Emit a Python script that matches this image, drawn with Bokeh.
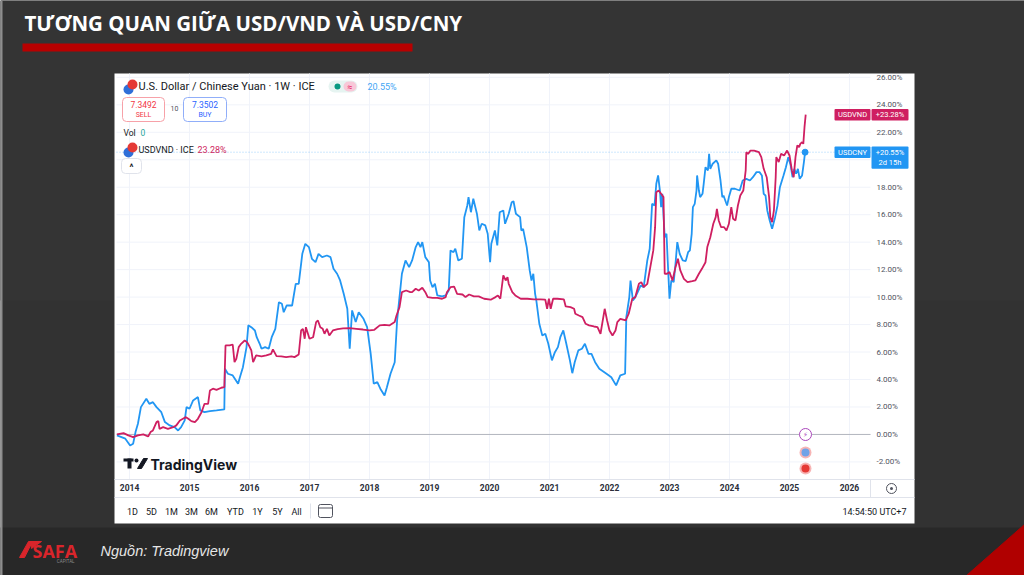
from bokeh.plotting import figure
from bokeh.models import Range1d, FixedTicker, PrintfTickFormatter, LinearAxis
from bokeh.core.properties import value
from bokeh.embed import file_html
from bokeh.resources import INLINE

# weekly closes, % change from the first bar
cny_t = [2013.79, 2013.93, 2014.01, 2014.06, 2014.10, 2014.14, 2014.19, 2014.28, 2014.33, 2014.39,
         2014.45, 2014.53, 2014.59, 2014.67, 2014.75, 2014.81, 2014.86, 2014.92, 2014.95, 2015.00,
         2015.06, 2015.14, 2015.18, 2015.25, 2015.34, 2015.45, 2015.58, 2015.59, 2015.64, 2015.72,
         2015.81, 2015.84, 2015.89, 2015.95, 2015.98, 2016.03, 2016.09, 2016.12, 2016.17, 2016.20,
         2016.26, 2016.32, 2016.37, 2016.43, 2016.49, 2016.54, 2016.57, 2016.62, 2016.71, 2016.77,
         2016.82, 2016.88, 2016.93, 2016.99, 2017.04, 2017.10, 2017.15, 2017.21, 2017.29, 2017.35,
         2017.40, 2017.46, 2017.51, 2017.57, 2017.63, 2017.67, 2017.71, 2017.77, 2017.82, 2017.90,
         2017.96, 2018.02, 2018.07, 2018.13, 2018.18, 2018.25, 2018.29, 2018.35, 2018.42, 2018.46,
         2018.54, 2018.60, 2018.66, 2018.71, 2018.77, 2018.81, 2018.85, 2018.88, 2018.93, 2018.99,
         2019.01, 2019.05, 2019.09, 2019.13, 2019.21, 2019.27, 2019.32, 2019.35, 2019.40, 2019.43,
         2019.48, 2019.54, 2019.58, 2019.63, 2019.65, 2019.69, 2019.73, 2019.79, 2019.83, 2019.87,
         2019.93, 2019.97, 2020.01, 2020.03, 2020.09, 2020.13, 2020.17, 2020.23, 2020.26, 2020.32,
         2020.37, 2020.40, 2020.44, 2020.51, 2020.53, 2020.56, 2020.62, 2020.67, 2020.70, 2020.73,
         2020.76, 2020.78, 2020.83, 2020.88, 2020.93, 2020.98, 2021.04, 2021.09, 2021.14, 2021.18,
         2021.23, 2021.28, 2021.34, 2021.38, 2021.42, 2021.48, 2021.54, 2021.59, 2021.65, 2021.70,
         2021.76, 2021.83, 2021.95, 2022.03, 2022.11, 2022.18, 2022.26, 2022.28, 2022.33, 2022.35,
         2022.39, 2022.43, 2022.47, 2022.52, 2022.57, 2022.63, 2022.67, 2022.71, 2022.75, 2022.78,
         2022.81, 2022.84, 2022.86, 2022.88, 2022.92, 2022.95, 2022.97, 2023.00, 2023.03, 2023.07,
         2023.10, 2023.13, 2023.17, 2023.22, 2023.27, 2023.31, 2023.34, 2023.37, 2023.39, 2023.42,
         2023.45, 2023.46, 2023.49, 2023.51, 2023.55, 2023.57, 2023.60, 2023.64, 2023.66, 2023.68,
         2023.72, 2023.78, 2023.81, 2023.85, 2023.88, 2023.90, 2023.94, 2023.96, 2023.99, 2024.03,
         2024.09, 2024.17, 2024.22, 2024.28, 2024.34, 2024.39, 2024.45, 2024.50, 2024.54, 2024.57,
         2024.60, 2024.63, 2024.67, 2024.71, 2024.76, 2024.80, 2024.84, 2024.90, 2024.94, 2024.98,
         2025.02, 2025.05, 2025.08, 2025.11, 2025.14, 2025.17, 2025.21, 2025.24, 2025.26]
cny_v = [-0.07, -0.31, -0.80, -0.68, 0.17, 0.78, 1.99, 2.60, 2.23, 2.35,
         1.99, 1.62, 0.90, 0.66, 0.53, 0.29, 0.53, 1.02, 1.99, 1.87,
         2.48, 2.72, 1.75, 1.62, 1.70, 1.75, 1.82, 4.78, 4.42, 4.30,
         3.69, 4.17, 4.90, 6.36, 7.94, 7.81, 7.57, 7.08, 6.60, 6.24,
         6.36, 6.24, 7.08, 7.69, 9.63, 9.51, 8.90, 9.39, 9.39, 10.97,
         10.97, 13.15, 13.88, 13.64, 12.79, 12.54, 13.15, 12.91, 13.03, 12.91,
         12.06, 11.70, 11.21, 10.24, 9.15, 6.24, 9.03, 8.18, 8.90, 8.42,
         7.81, 5.87, 3.69, 3.81, 3.33, 2.84, 3.44, 4.42, 5.26, 8.30,
         11.70, 12.67, 12.18, 12.67, 13.64, 14.00, 13.64, 14.00, 12.91, 12.54,
         11.21, 10.72, 10.97, 10.12, 10.05, 10.12, 10.48, 13.40, 13.27, 13.52,
         12.67, 12.79, 15.82, 16.67, 17.28, 16.18, 17.16, 16.07, 14.85, 15.34,
         15.22, 14.61, 12.54, 13.88, 14.85, 13.76, 16.18, 16.31, 15.34, 16.07,
         16.91, 16.98, 16.07, 15.82, 14.85, 14.97, 13.64, 11.94, 11.21, 11.70,
         10.24, 9.76, 8.06, 7.21, 7.33, 6.60, 5.39, 5.99, 6.36, 7.08,
         7.57, 6.60, 5.39, 4.46, 5.26, 6.12, 6.24, 6.60, 5.87, 5.87,
         5.26, 4.78, 4.42, 4.17, 3.57, 4.30, 4.42, 8.54, 10.00, 11.21,
         9.76, 10.00, 10.36, 10.85, 10.72, 12.67, 13.52, 16.79, 16.67, 18.25,
         18.86, 17.76, 16.55, 17.52, 14.36, 14.61, 12.67, 9.88, 11.21, 11.09,
         12.43, 14.00, 13.15, 12.67, 12.62, 13.27, 13.40, 14.61, 16.55, 16.79,
         17.76, 18.86, 17.76, 17.28, 17.52, 18.25, 19.46, 19.22, 20.43, 19.34,
         19.71, 19.95, 19.71, 18.49, 17.28, 17.40, 16.91, 16.67, 17.28, 17.89,
         17.89, 17.76, 18.49, 18.61, 18.49, 18.73, 19.10, 19.10, 18.86, 17.52,
         17.40, 16.31, 15.58, 14.97, 15.82, 16.67, 18.00, 18.86, 19.46, 20.19,
         19.58, 18.73, 19.34, 18.98, 19.34, 18.61, 18.86, 19.83, 20.55]

vnd_t = [2013.79, 2013.90, 2013.98, 2014.06, 2014.14, 2014.23, 2014.31, 2014.35, 2014.39, 2014.45,
         2014.48, 2014.50, 2014.56, 2014.64, 2014.73, 2014.78, 2014.84, 2014.89, 2014.94, 2014.98,
         2015.03, 2015.09, 2015.14, 2015.20, 2015.25, 2015.31, 2015.34, 2015.39, 2015.45, 2015.53,
         2015.58, 2015.60, 2015.67, 2015.72, 2015.75, 2015.78, 2015.82, 2015.86, 2015.92, 2015.96,
         2015.99, 2016.03, 2016.06, 2016.11, 2016.20, 2016.28, 2016.36, 2016.39, 2016.45, 2016.53,
         2016.61, 2016.70, 2016.75, 2016.82, 2016.86, 2016.89, 2016.92, 2016.94, 2017.00, 2017.06,
         2017.11, 2017.14, 2017.18, 2017.22, 2017.25, 2017.29, 2017.33, 2017.39, 2017.47, 2017.56,
         2017.67, 2017.78, 2017.89, 2018.00, 2018.08, 2018.17, 2018.25, 2018.33, 2018.42, 2018.45,
         2018.50, 2018.54, 2018.61, 2018.68, 2018.71, 2018.77, 2018.82, 2018.88, 2018.93, 2018.97,
         2019.05, 2019.13, 2019.21, 2019.27, 2019.29, 2019.35, 2019.41, 2019.46, 2019.55, 2019.60,
         2019.66, 2019.74, 2019.82, 2019.91, 2020.02, 2020.10, 2020.14, 2020.18, 2020.23, 2020.27,
         2020.30, 2020.32, 2020.38, 2020.43, 2020.52, 2020.63, 2020.74, 2020.85, 2020.93, 2020.96,
         2020.99, 2021.02, 2021.06, 2021.13, 2021.24, 2021.27, 2021.35, 2021.41, 2021.43, 2021.49,
         2021.55, 2021.60, 2021.66, 2021.74, 2021.80, 2021.85, 2021.92, 2021.96, 2022.00, 2022.05,
         2022.10, 2022.13, 2022.18, 2022.27, 2022.32, 2022.38, 2022.43, 2022.49, 2022.53, 2022.57,
         2022.63, 2022.68, 2022.73, 2022.76, 2022.78, 2022.82, 2022.86, 2022.90, 2022.92, 2022.96,
         2023.00, 2023.05, 2023.10, 2023.14, 2023.18, 2023.24, 2023.30, 2023.38, 2023.43, 2023.49,
         2023.54, 2023.60, 2023.63, 2023.68, 2023.73, 2023.77, 2023.79, 2023.82, 2023.86, 2023.91,
         2023.95, 2023.99, 2024.03, 2024.06, 2024.10, 2024.14, 2024.18, 2024.23, 2024.27, 2024.28,
         2024.31, 2024.35, 2024.41, 2024.49, 2024.53, 2024.57, 2024.62, 2024.66, 2024.68, 2024.71,
         2024.74, 2024.77, 2024.78, 2024.82, 2024.86, 2024.91, 2024.96, 2025.00, 2025.04, 2025.07,
         2025.10, 2025.13, 2025.16, 2025.18, 2025.21, 2025.23, 2025.25, 2025.27]
vnd_v = [0.00, 0.10, -0.07, -0.19, -0.07, 0.00, -0.15, 0.17, 0.29, 0.90,
         0.97, 0.41, 0.53, 0.41, 0.53, 0.66, 1.02, 1.14, 1.26, 1.14,
         0.97, 0.90, 1.14, 1.62, 2.23, 2.23, 3.20, 3.33, 3.25, 3.40,
         3.44, 6.48, 6.48, 6.55, 5.26, 5.51, 6.36, 6.60, 6.84, 6.72,
         6.48, 6.12, 5.26, 5.75, 5.68, 5.75, 5.87, 6.19, 5.70, 5.68,
         5.63, 5.68, 5.63, 5.82, 7.57, 7.69, 6.97, 7.81, 6.97, 7.08,
         8.18, 8.30, 7.81, 7.69, 7.33, 7.69, 7.21, 7.57, 7.67, 7.72,
         7.74, 7.69, 7.64, 7.57, 7.62, 7.94, 7.98, 7.94, 8.18, 8.66,
         9.27, 10.36, 10.48, 10.36, 10.36, 10.61, 10.48, 10.68, 10.36, 10.00,
         9.95, 9.95, 9.88, 10.00, 10.36, 10.72, 10.77, 10.24, 10.19, 10.00,
         10.19, 10.05, 10.05, 9.88, 9.81, 10.00, 10.12, 9.88, 11.58, 11.21,
         11.45, 10.97, 10.36, 10.12, 9.88, 9.88, 9.83, 9.83, 9.81, 9.15,
         9.88, 9.15, 9.88, 9.88, 9.83, 9.32, 9.27, 9.15, 8.79, 8.66,
         8.54, 8.06, 7.94, 7.86, 7.81, 7.33, 9.15, 8.30, 7.57, 7.21,
         7.57, 8.18, 8.42, 8.30, 8.79, 9.88, 10.00, 10.97, 11.09, 10.72,
         10.97, 12.18, 13.40, 15.09, 17.64, 17.76, 17.52, 17.28, 11.70, 11.70,
         11.82, 11.21, 12.18, 12.79, 11.94, 11.33, 11.09, 11.16, 11.21, 11.70,
         12.06, 12.54, 13.64, 14.36, 15.34, 15.82, 16.43, 15.58, 15.09, 15.09,
         14.85, 15.34, 16.55, 15.70, 15.58, 16.67, 17.40, 17.76, 19.22, 20.55,
         20.43, 20.67, 20.67, 20.55, 20.19, 19.34, 18.73, 17.28, 15.82, 15.46,
         16.31, 18.73, 20.19, 19.83, 20.43, 20.31, 20.67, 20.31, 19.22, 18.73,
         20.19, 21.04, 20.92, 21.16, 21.28, 21.16, 22.37, 23.28]

years = list(range(2014, 2027))
pct_ticks = list(range(-2, 27, 2))
range_buttons = ["1D", "5D", "1M", "3M", "6M", "YTD", "1Y", "5Y", "All"]
button_x = [132, 151, 171, 191, 211, 235, 257, 277, 296]

BLUE = "#2196f3"
RED = "#cf1f61"
INK = "#131722"

# the slide is laid out in its own pixel space; the chart gets its own scales,
# pinned to the plot area of the screenshot
FRAME = (116, 73, 870, 479)          # left, top, right, bottom of the price pane
X_SPAN = (2013.783, 2026.35)         # years shown across the pane
Y_SPAN = (-3.28, 26.28)              # percent shown down the pane
PAGE = (0, 0, 1024, 575)


def year_at(px):
    return X_SPAN[0] + (px - FRAME[0]) * (X_SPAN[1] - X_SPAN[0]) / (FRAME[2] - FRAME[0])


def pct_at(py):
    return Y_SPAN[0] + (FRAME[3] - py) * (Y_SPAN[1] - Y_SPAN[0]) / (FRAME[3] - FRAME[1])


p = figure(width=PAGE[2], height=PAGE[3], output_backend="svg", toolbar_location=None, tools="",
           x_range=Range1d(PAGE[0], PAGE[2]), y_range=Range1d(PAGE[3], PAGE[1]),
           x_axis_type=None, y_axis_type=None, min_border=0)
p.extra_x_ranges = {"t": Range1d(year_at(PAGE[0]), year_at(PAGE[2]))}
p.extra_y_ranges = {"pct": Range1d(pct_at(PAGE[3]), pct_at(PAGE[1]))}
p.background_fill_color = "#323232"
p.border_fill_color = "#323232"
p.outline_line_color = None


def box(l, t, r, b, color, line=None, radius=0, y_range="default", level="glyph"):
    p.quad(left=[l], right=[r], top=[t], bottom=[b], fill_color=color, line_color=line,
           line_width=1, border_radius=radius, y_range_name=y_range, level=level)


def text(x, y, s, size, color=INK, align="left", font="Roboto", style="normal",
         y_range="default", level="glyph"):
    p.text(x=[x], y=[y], text=[s], text_font=value(font), text_font_size=value(f"{size}px"),
           text_color=color, text_font_style=style, text_align=align, text_baseline="middle",
           y_range_name=y_range, level=level)


def dot(x, y, size, color, line=None):
    p.scatter([x], [y], size=size, fill_color=color, line_color=line, line_width=1)


# slide background, white panel holding the screenshot
box(0, 0, 1024, 300, "#343434")
box(0, 527, 1024, 575, "#282828")
box(0, 0, 2, 575, "#8e8e8e")
box(114, 73, 914, 523, "white")
p.patch([966, 1024, 1024], [575, 575, 524], color="#b00000")

text(24, 22, "TƯƠNG QUAN GIỮA USD/VND VÀ USD/CNY", 20.5, "white", font="Open Sans", style="bold")
box(22, 43, 412, 51, "#b80000")

# footer
p.patch([19, 24, 32, 28], [557, 557, 541, 541], color="#d9252b")
p.patch([30, 41, 31], [541, 541, 548], color="#d9252b")
text(32, 550, "SAFA", 18, "#d9252b", font="Open Sans", style="bold")
text(74, 561, "CAPITAL", 4.5, "#8a8a8a", align="right")
text(100, 550, "Nguồn: Tradingview", 14.5, "#e6e6e6", font="Liberation Sans", style="italic")

# price pane: grid, reference lines, series
p.segment(x0=years, x1=years, y0=Y_SPAN[0], y1=Y_SPAN[1], color="#f0f3fa",
          x_range_name="t", y_range_name="pct")
p.segment(x0=X_SPAN[0], x1=X_SPAN[1], y0=pct_ticks, y1=pct_ticks, color="#f0f3fa",
          x_range_name="t", y_range_name="pct")
p.segment(x0=[X_SPAN[0]], x1=[X_SPAN[1]], y0=[0], y1=[0], color="#b2b5be",
          x_range_name="t", y_range_name="pct")
p.segment(x0=[X_SPAN[0]], x1=[X_SPAN[1]], y0=[cny_v[-1]], y1=[cny_v[-1]], color=BLUE,
          line_alpha=0.45, line_dash="1 2", x_range_name="t", y_range_name="pct")

p.line(cny_t, cny_v, color=BLUE, line_width=1.8, x_range_name="t", y_range_name="pct")
p.line(vnd_t, vnd_v, color=RED, line_width=1.8, x_range_name="t", y_range_name="pct")
p.scatter([cny_t[-1]], [cny_v[-1]], size=6, color=BLUE, x_range_name="t", y_range_name="pct")

# time and price scales pinned to the pane edges
xaxis = LinearAxis(x_range_name="t", fixed_location=FRAME[3], ticker=FixedTicker(ticks=years))
yaxis = LinearAxis(y_range_name="pct", fixed_location=FRAME[2], ticker=FixedTicker(ticks=pct_ticks),
                   formatter=PrintfTickFormatter(format="%.2f%%"))
for ax in (xaxis, yaxis):
    ax.axis_line_color = None
    ax.major_tick_line_color = None
    ax.minor_tick_line_color = None
    ax.major_tick_in = 0
    ax.major_tick_out = 0
    ax.major_label_text_font = "Roboto"
xaxis.major_label_text_font_size = "8.5px"
xaxis.major_label_text_font_style = "bold"
xaxis.major_label_text_color = "#2a2e39"
xaxis.major_label_standoff = 4
yaxis.major_label_text_font_size = "8px"
yaxis.major_label_text_color = "#50535e"
yaxis.major_label_standoff = 6
p.add_layout(xaxis, "below")
p.add_layout(yaxis, "right")

# panel separators
p.segment(x0=[114, 114, 870, 310], x1=[914, 914, 870, 310], y0=[479, 497, 479, 503],
          y1=[479, 497, 497, 518], color="#e0e3eb")

# price tags on the scale
for last, name, color, extra in ((vnd_v[-1], "USDVND", RED, None), (cny_v[-1], "USDCNY", BLUE, "2d 15h")):
    box(834, last + 0.42, 870, last - 0.42, color, radius=1, y_range="pct", level="overlay")
    box(871, last + 0.42, 908, last - (1.2 if extra else 0.42), color, radius=1,
        y_range="pct", level="overlay")
    text(852, last, name, 7.5, "white", align="center", y_range="pct", level="overlay")
    text(889.5, last, f"+{last:.2f}%", 7.5, "white", align="center", y_range="pct", level="overlay")
    if extra:
        text(889.5, last - 0.78, extra, 7.5, "white", align="center", y_range="pct", level="overlay")

# legend block, top left
dot(128, 89, 10, "#2f6fd8")
dot(132, 84, 10, "#e53935")
text(138, 86, "U.S. Dollar / Chinese Yuan · 1W · ICE", 11)
box(328, 80, 357, 92, "#e6f4f1", radius=6)
dot(337, 86, 6, "#089981")
box(343, 81, 356, 91, "#f8c8d8", radius=5)
text(349.5, 86, "≈", 9, "#e91e63", align="center")
text(367, 86, f"{cny_v[-1]:.2f}%", 9, "#42a5f5")

box(122, 97, 164, 121, "white", line="#f7a1a8", radius=4)
text(143, 104, "7.3492", 8.5, "#f23645", align="center")
text(143, 114, "SELL", 7, "#f23645", align="center")
text(174, 108, "10", 7, "#50535e", align="center")
box(183, 97, 226, 121, "white", line="#90aef9", radius=4)
text(204.5, 104, "7.3502", 8.5, "#2962ff", align="center")
text(204.5, 114, "BUY", 7, "#2962ff", align="center")

text(123, 132, "Vol", 8.5)
text(140, 132, "0", 8.5, "#26a69a")

dot(128, 152, 10, "#2f6fd8")
dot(132, 147, 10, "#e53935")
text(138, 149, "USDVND · ICE", 9)
text(197, 149, f"{vnd_v[-1]:.2f}%", 9, RED)
box(121, 158, 141, 173, "white", line="#e0e3eb", radius=4)
text(131, 166, "^", 9, align="center", style="bold")

# TradingView watermark
box(123, 458, 133, 461, INK)
box(127, 458, 131, 468, INK)
dot(136, 460, 4, INK)
p.patch([137, 141, 147, 143], [468, 468, 458, 458], color=INK)
text(150, 464, "TradingView", 14, INK, font="Inter", style="bold")

# event badges at the last bar
dot(805, 434, 12, "white", "#ab47bc")
text(805, 434, "⚡", 7, "#ab47bc", align="center", font="DejaVu Sans")
dot(805, 452, 12, "#f7b5b5")
dot(805, 452, 8, "#6fa3e8")
dot(805, 468, 12, "#f7b5b5")
dot(805, 468, 8, "#e53935")

# bottom bars
dot(891, 488, 10, "white", "#50535e")
dot(891, 488, 3, "#50535e")
for lab, bx in zip(range_buttons, button_x):
    text(bx, 511, lab, 9, align="center")
box(318, 504, 332, 517, "white", line="#50535e", radius=2)
p.segment(x0=[318], x1=[332], y0=[507.5], y1=[507.5], color="#50535e")
text(906, 511, "14:54:50 UTC+7", 9, align="right")

open("out.html", "w").write(file_html(p, INLINE))
